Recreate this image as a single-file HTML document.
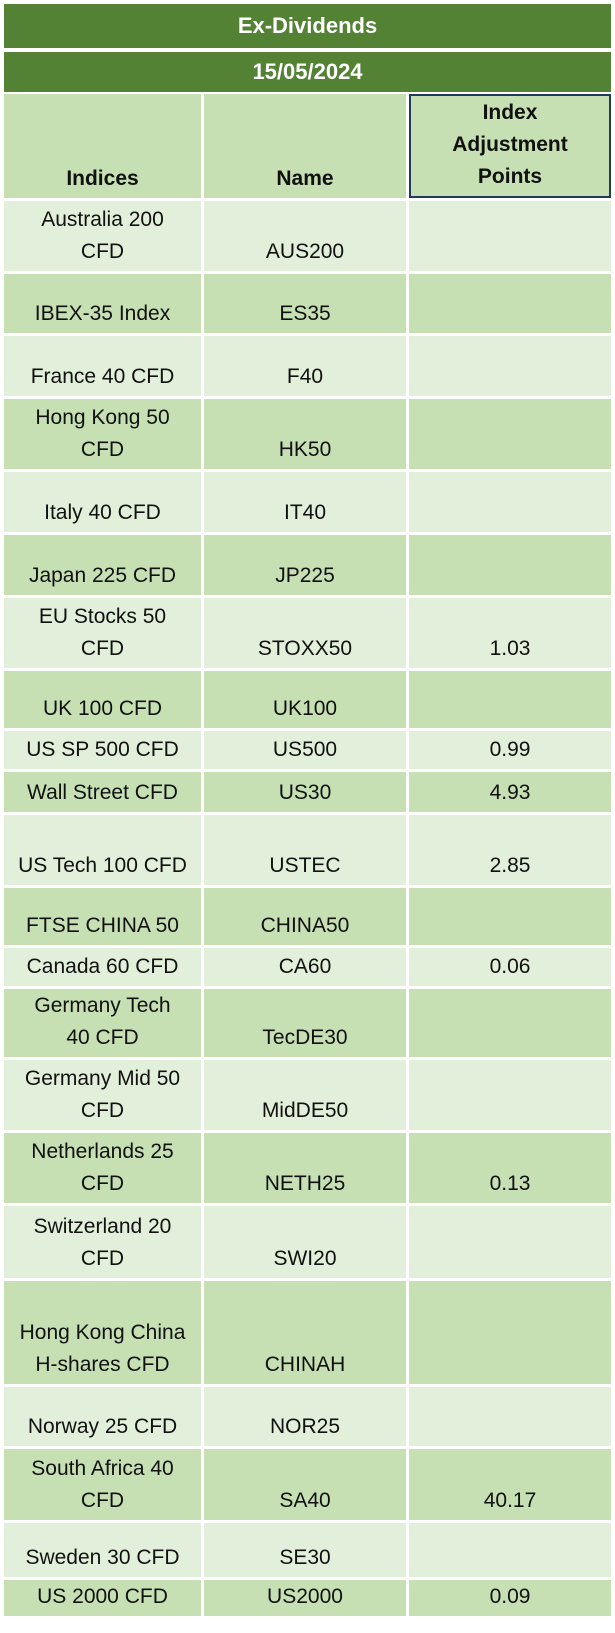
<!DOCTYPE html>
<html><head><meta charset="utf-8"><style>
body{margin:0;width:615px;height:1633px;background:#fff;position:relative;font-family:"Liberation Sans",Arial,sans-serif;overflow:hidden}
.c{position:absolute;box-sizing:border-box;display:flex;align-items:flex-end;justify-content:center;text-align:center;font-size:21px;line-height:32px;color:#111;padding-bottom:3px}
.t{position:absolute;left:4px;width:607px;background:#548235;color:#fff;font-weight:bold;font-size:22px;display:flex;align-items:center;justify-content:center}
</style></head><body>
<div class="t" style="top:4px;height:44px">Ex-Dividends</div>
<div class="t" style="top:52px;height:40px">15/05/2024</div>
<div id="grid"></div>
<script>
const indices=["Australia 200<br>CFD","IBEX-35 Index","France 40 CFD","Hong Kong 50<br>CFD","Italy 40 CFD","Japan 225 CFD","EU Stocks 50<br>CFD","UK 100 CFD","US SP 500 CFD","Wall Street CFD","US Tech 100 CFD","FTSE CHINA 50","Canada 60 CFD","Germany Tech<br>40 CFD","Germany Mid 50<br>CFD","Netherlands 25<br>CFD","Switzerland 20<br>CFD","Hong Kong China<br>H-shares CFD","Norway 25 CFD","South Africa 40<br>CFD","Sweden 30 CFD","US 2000 CFD"];
const names=["AUS200","ES35","F40","HK50","IT40","JP225","STOXX50","UK100","US500","US30","USTEC","CHINA50","CA60","TecDE30","MidDE50","NETH25","SWI20","CHINAH","NOR25","SA40","SE30","US2000"];
const points=["","","","","","","1.03","","0.99","4.93","2.85","","0.06","","","0.13","","","","40.17","","0.09"];
const bounds=[94,201,274,336,399,472,535,598,671,731,772,815,888,948,989,1060,1133,1206,1281,1387,1449,1523,1580,1619];
const cols=[4,204,409,611];
const g=document.getElementById('grid');
function cell(x0,x1,y0,y1,html,bg,name,extra){
  const d=document.createElement('div');
  d.className='c';
  
  
  d.style.left=x0+'px';d.style.width=(x1-x0-3)+'px';
  d.style.top=y0+'px';d.style.height=(y1-y0-3)+'px';
  d.style.background=bg;d.innerHTML=html;
  if(extra)Object.assign(d.style,extra);
  g.appendChild(d);
}
cell(cols[0],cols[1],bounds[0],bounds[1],"<b>Indices</b>","#c6e0b4","header-indices");
cell(cols[1],cols[2],bounds[0],bounds[1],"<b>Name</b>","#c6e0b4","header-name");
cell(cols[2],cols[3]+3,bounds[0],bounds[1],"<b>Index<br>Adjustment<br>Points</b>","#c6e0b4","header-points",{border:"2px solid #1f3a5a"});
for(let i=0;i<names.length;i++){
  const bg=i%2===0?"#e2efda":"#c6e0b4";
  const y0=bounds[i+1],y1=bounds[i+2];
  cell(cols[0],cols[1],y0,y1,indices[i],bg,"index-cell-"+names[i].toLowerCase());
  cell(cols[1],cols[2],y0,y1,names[i],bg,"name-cell-"+names[i].toLowerCase());
  cell(cols[2],cols[3]+3,y0,y1,points[i],bg,"points-cell-"+names[i].toLowerCase());
}
</script>
</body></html>
